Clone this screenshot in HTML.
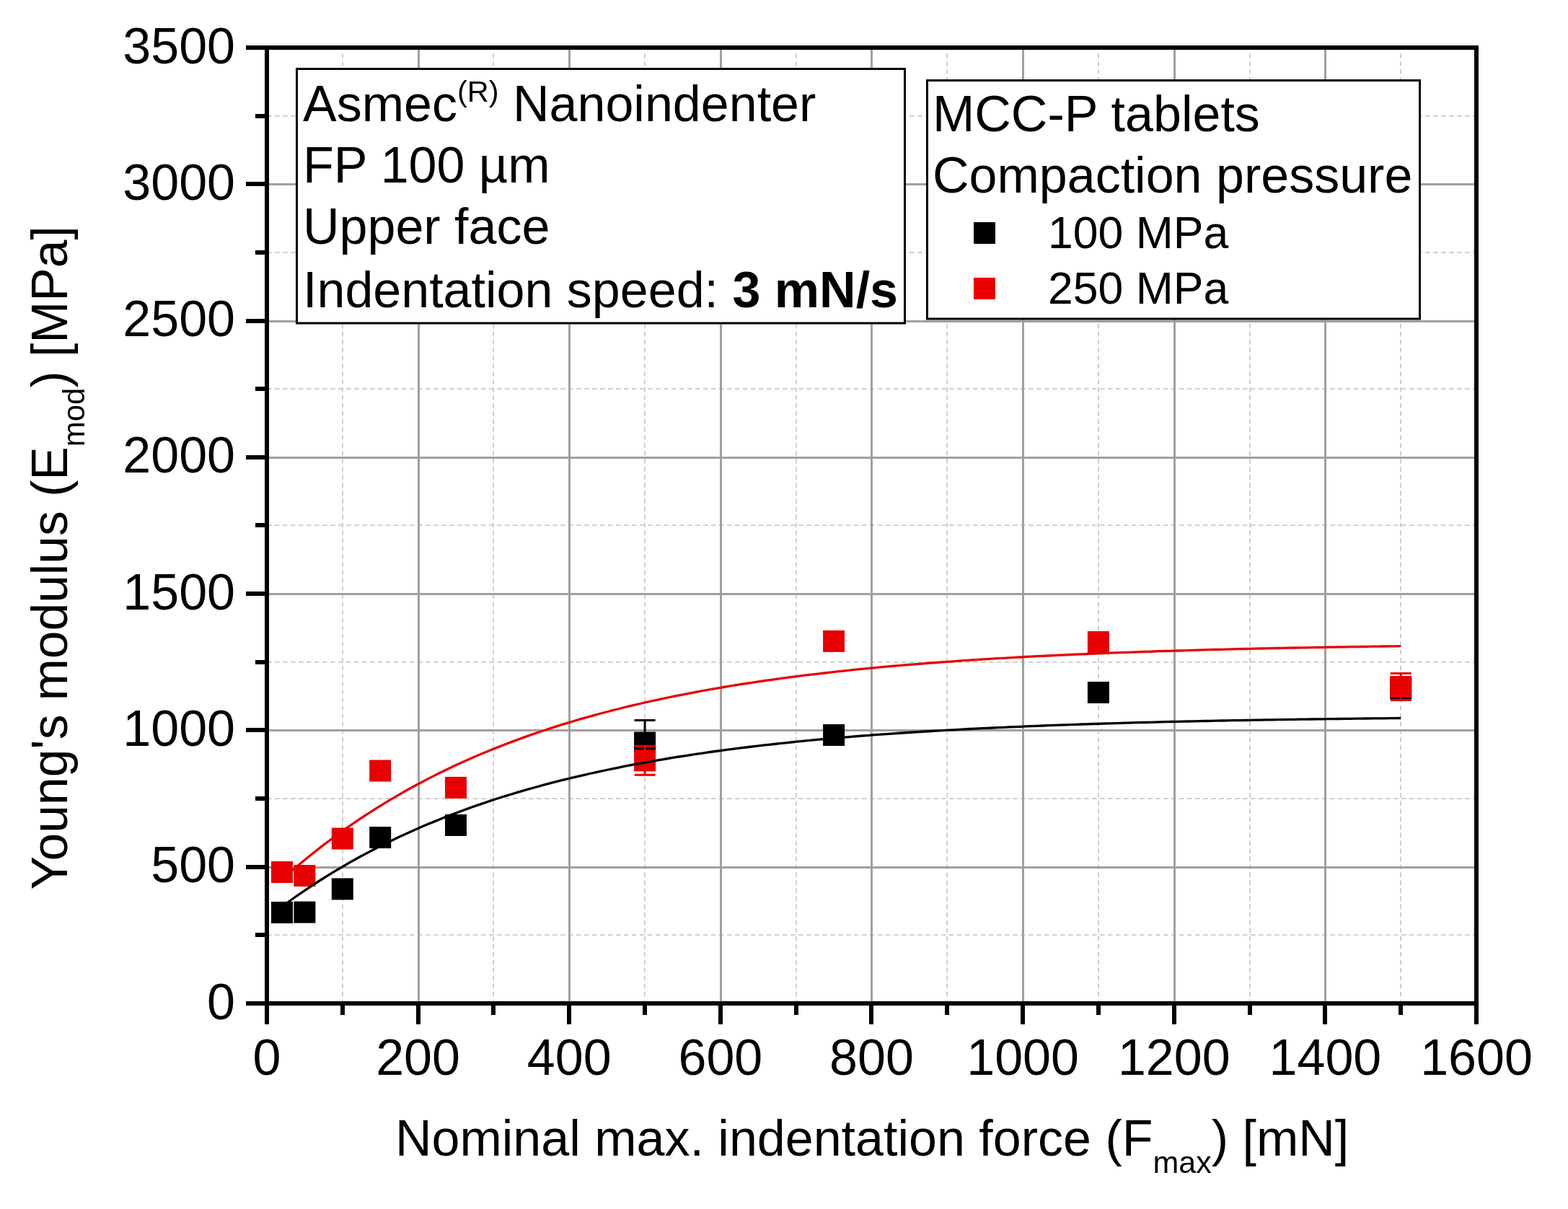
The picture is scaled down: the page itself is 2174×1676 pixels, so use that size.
<!DOCTYPE html><html><head><meta charset="utf-8"><title>Young's modulus vs indentation force</title>
<style>html,body{margin:0;padding:0;background:#fff;}svg{display:block;}text{font-family:'Liberation Sans', Arial, sans-serif;fill:#000;}</style></head><body>
<svg width="2174" height="1676" viewBox="0 0 2174 1676">
<rect x="0" y="0" width="2174" height="1676" fill="#fff"/>
<path d="M475.0 1391.0V66.0M684.0 1391.0V66.0M894.0 1391.0V66.0M1104.0 1391.0V66.0M1313.0 1391.0V66.0M1523.0 1391.0V66.0M1733.0 1391.0V66.0M1942.0 1391.0V66.0" stroke="#cfcfcf" stroke-width="2" stroke-dasharray="6.6 4.425" stroke-dashoffset="1.5" fill="none"/>
<path d="M370.0 1296.0H2047.0M370.0 1107.0H2047.0M370.0 918.0H2047.0M370.0 728.0H2047.0M370.0 539.0H2047.0M370.0 350.0H2047.0M370.0 161.0H2047.0" stroke="#cfcfcf" stroke-width="2" stroke-dasharray="6.6 4.4" fill="none"/>
<path d="M580.5 66.0V1391.0M789.5 66.0V1391.0M999.5 66.0V1391.0M1208.5 66.0V1391.0M1418.5 66.0V1391.0M1628.5 66.0V1391.0M1837.5 66.0V1391.0M370.0 1202.5H2047.0M370.0 1012.5H2047.0M370.0 823.5H2047.0M370.0 634.5H2047.0M370.0 445.5H2047.0M370.0 255.5H2047.0" stroke="#a0a0a0" stroke-width="3" fill="none"/>
<rect x="411.5" y="95.5" width="843" height="352.5" fill="#fff" stroke="#000" stroke-width="3"/>
<rect x="1285.5" y="111.5" width="683" height="330.5" fill="#fff" stroke="#000" stroke-width="3"/>
<path d="M341 1391.0H370.0M341 1202.0H370.0M341 1012.0H370.0M341 823.0H370.0M341 634.0H370.0M341 445.0H370.0M341 255.0H370.0M341 66.0H370.0M354 1296.0H370.0M354 1107.0H370.0M354 918.0H370.0M354 728.0H370.0M354 539.0H370.0M354 350.0H370.0M354 161.0H370.0M370.0 1391.0V1420M580.0 1391.0V1420M789.0 1391.0V1420M999.0 1391.0V1420M1208.0 1391.0V1420M1418.0 1391.0V1420M1628.0 1391.0V1420M1837.0 1391.0V1420M2047.0 1391.0V1420M475.0 1391.0V1407M684.0 1391.0V1407M894.0 1391.0V1407M1104.0 1391.0V1407M1313.0 1391.0V1407M1523.0 1391.0V1407M1733.0 1391.0V1407M1942.0 1391.0V1407" stroke="#000" stroke-width="6" fill="none"/>
<rect x="370.0" y="66.0" width="1677.0" height="1325.0" fill="none" stroke="#000" stroke-width="6"/>
<text x="326" y="1412.5" font-size="70" text-anchor="end">0</text>
<text x="326" y="1223.2" font-size="70" text-anchor="end">500</text>
<text x="326" y="1033.9" font-size="70" text-anchor="end">1000</text>
<text x="326" y="844.6" font-size="70" text-anchor="end">1500</text>
<text x="326" y="655.4" font-size="70" text-anchor="end">2000</text>
<text x="326" y="466.1" font-size="70" text-anchor="end">2500</text>
<text x="326" y="276.8" font-size="70" text-anchor="end">3000</text>
<text x="326" y="87.5" font-size="70" text-anchor="end">3500</text>
<text x="370.0" y="1490" font-size="70" text-anchor="middle">0</text>
<text x="579.6" y="1490" font-size="70" text-anchor="middle">200</text>
<text x="789.2" y="1490" font-size="70" text-anchor="middle">400</text>
<text x="998.9" y="1490" font-size="70" text-anchor="middle">600</text>
<text x="1208.5" y="1490" font-size="70" text-anchor="middle">800</text>
<text x="1418.1" y="1490" font-size="70" text-anchor="middle">1000</text>
<text x="1627.8" y="1490" font-size="70" text-anchor="middle">1200</text>
<text x="1837.4" y="1490" font-size="70" text-anchor="middle">1400</text>
<text x="2047.0" y="1490" font-size="70" text-anchor="middle">1600</text>
<text x="548" y="1602" font-size="70">Nominal max. indentation force (F<tspan font-size="43" dy="24">max</tspan><tspan dy="-24">) [mN]</tspan></text>
<text transform="translate(93,1233.5) rotate(-90)" x="0" y="0" font-size="69.6">Young's modulus (E<tspan font-size="42" dy="24">mod</tspan><tspan dy="-24">) [MPa]</tspan></text>
<text x="420" y="167.8" font-size="70">Asmec<tspan font-size="41.5" dy="-27">(R)</tspan><tspan dy="27"> Nanoindenter</tspan></text>
<text x="420" y="253.4" font-size="70">FP 100 µm</text>
<text x="420" y="338.1" font-size="70">Upper face</text>
<text x="420" y="426.4" font-size="70">Indentation speed: <tspan font-weight="bold">3 mN/s</tspan></text>
<text x="1293" y="181.8" font-size="70">MCC-P tablets</text>
<text x="1293" y="266.6" font-size="70">Compaction pressure</text>
<rect x="1350" y="308" width="30" height="30" fill="#000"/>
<rect x="1350" y="385" width="30" height="30" fill="#e80000"/>
<text x="1453" y="343.7" font-size="62.5">100 MPa</text>
<text x="1453" y="420.8" font-size="62.5">250 MPa</text>
<rect x="376.0" y="1250.0" width="30" height="30" fill="#000"/><rect x="407.4" y="1249.6" width="30" height="30" fill="#000"/><rect x="459.8" y="1217.4" width="30" height="30" fill="#000"/><rect x="512.2" y="1146.0" width="30" height="30" fill="#000"/><rect x="617.0" y="1128.9" width="30" height="30" fill="#000"/><path d="M894.1 998.4V1060.5M879.6 998.4H908.6M879.6 1060.5H908.6" stroke="#000" stroke-width="3" fill="none"/><rect x="879.1" y="1014.5" width="30" height="30" fill="#000"/><rect x="1141.1" y="1004.0" width="30" height="30" fill="#000"/><rect x="1507.9" y="945.0" width="30" height="30" fill="#000"/><path d="M1942.2 950.7V958.3M1927.7 950.7H1956.7M1927.7 958.3H1956.7" stroke="#000" stroke-width="3" fill="none"/><rect x="1927.2" y="939.5" width="30" height="30" fill="#000"/>
<rect x="376.0" y="1194.0" width="30" height="30" fill="#e80000"/><rect x="407.4" y="1199.0" width="30" height="30" fill="#e80000"/><rect x="459.8" y="1147.5" width="30" height="30" fill="#e80000"/><rect x="512.2" y="1053.5" width="30" height="30" fill="#e80000"/><rect x="617.0" y="1076.9" width="30" height="30" fill="#e80000"/><path d="M894.1 1034.2V1074.3M879.6 1034.2H908.6M879.6 1074.3H908.6" stroke="#e80000" stroke-width="3" fill="none"/><rect x="879.1" y="1039.3" width="30" height="30" fill="#e80000"/><rect x="1141.1" y="873.9" width="30" height="30" fill="#e80000"/><rect x="1507.9" y="875.0" width="30" height="30" fill="#e80000"/><path d="M1942.2 933.5V970.6M1927.7 933.5H1956.7M1927.7 970.6H1956.7" stroke="#e80000" stroke-width="3" fill="none"/><rect x="1927.2" y="937.0" width="30" height="30" fill="#e80000"/>
<polyline points="391.0,1256.7 398.7,1251.1 406.5,1245.5 414.2,1240.1 422.0,1234.8 429.7,1229.6 437.5,1224.5 445.3,1219.5 453.0,1214.7 460.8,1209.9 468.5,1205.2 476.3,1200.7 484.0,1196.2 491.8,1191.8 499.5,1187.5 507.3,1183.4 515.1,1179.3 522.8,1175.2 530.6,1171.3 538.3,1167.5 546.1,1163.7 553.8,1160.1 561.6,1156.5 569.4,1152.9 577.1,1149.5 584.9,1146.1 592.6,1142.8 600.4,1139.6 608.1,1136.4 615.9,1133.3 623.6,1130.3 631.4,1127.4 639.2,1124.5 646.9,1121.6 654.7,1118.8 662.4,1116.1 670.2,1113.5 677.9,1110.9 685.7,1108.3 693.5,1105.8 701.2,1103.4 709.0,1101.0 716.7,1098.7 724.5,1096.4 732.2,1094.2 740.0,1092.0 747.7,1089.8 755.5,1087.7 763.3,1085.7 771.0,1083.7 778.8,1081.7 786.5,1079.8 794.3,1077.9 802.0,1076.1 809.8,1074.3 817.5,1072.5 825.3,1070.8 833.1,1069.1 840.8,1067.5 848.6,1065.9 856.3,1064.3 864.1,1062.7 871.8,1061.2 879.6,1059.7 887.4,1058.3 895.1,1056.9 902.9,1055.5 910.6,1054.1 918.4,1052.8 926.1,1051.5 933.9,1050.2 941.6,1049.0 949.4,1047.8 957.2,1046.6 964.9,1045.4 972.7,1044.3 980.4,1043.1 988.2,1042.0 995.9,1041.0 1003.7,1039.9 1011.5,1038.9 1019.2,1037.9 1027.0,1036.9 1034.7,1036.0 1042.5,1035.0 1050.2,1034.1 1058.0,1033.2 1065.7,1032.3 1073.5,1031.5 1081.3,1030.6 1089.0,1029.8 1096.8,1029.0 1104.5,1028.2 1112.3,1027.4 1120.0,1026.7 1127.8,1025.9 1135.6,1025.2 1143.3,1024.5 1151.1,1023.8 1158.8,1023.1 1166.6,1022.4 1174.3,1021.8 1182.1,1021.2 1189.8,1020.5 1197.6,1019.9 1205.4,1019.3 1213.1,1018.7 1220.9,1018.2 1228.6,1017.6 1236.4,1017.1 1244.1,1016.5 1251.9,1016.0 1259.6,1015.5 1267.4,1015.0 1275.2,1014.5 1282.9,1014.0 1290.7,1013.5 1298.4,1013.1 1306.2,1012.6 1313.9,1012.2 1321.7,1011.8 1329.5,1011.3 1337.2,1010.9 1345.0,1010.5 1352.7,1010.1 1360.5,1009.7 1368.2,1009.4 1376.0,1009.0 1383.7,1008.6 1391.5,1008.3 1399.3,1007.9 1407.0,1007.6 1414.8,1007.3 1422.5,1006.9 1430.3,1006.6 1438.0,1006.3 1445.8,1006.0 1453.6,1005.7 1461.3,1005.4 1469.1,1005.1 1476.8,1004.8 1484.6,1004.6 1492.3,1004.3 1500.1,1004.0 1507.8,1003.8 1515.6,1003.5 1523.4,1003.3 1531.1,1003.0 1538.9,1002.8 1546.6,1002.6 1554.4,1002.4 1562.1,1002.1 1569.9,1001.9 1577.6,1001.7 1585.4,1001.5 1593.2,1001.3 1600.9,1001.1 1608.7,1000.9 1616.4,1000.7 1624.2,1000.5 1631.9,1000.3 1639.7,1000.2 1647.5,1000.0 1655.2,999.8 1663.0,999.7 1670.7,999.5 1678.5,999.3 1686.2,999.2 1694.0,999.0 1701.7,998.9 1709.5,998.7 1717.3,998.6 1725.0,998.5 1732.8,998.3 1740.5,998.2 1748.3,998.1 1756.0,997.9 1763.8,997.8 1771.6,997.7 1779.3,997.6 1787.1,997.4 1794.8,997.3 1802.6,997.2 1810.3,997.1 1818.1,997.0 1825.8,996.9 1833.6,996.8 1841.4,996.7 1849.1,996.6 1856.9,996.5 1864.6,996.4 1872.4,996.3 1880.1,996.2 1887.9,996.1 1895.7,996.0 1903.4,995.9 1911.2,995.9 1918.9,995.8 1926.7,995.7 1934.4,995.6 1942.2,995.5" fill="none" stroke="#000" stroke-width="3.3" stroke-linejoin="round"/>
<polyline points="391.0,1219.2 398.7,1212.3 406.5,1205.5 414.2,1198.9 422.0,1192.5 429.7,1186.2 437.5,1180.0 445.3,1173.9 453.0,1168.0 460.8,1162.2 468.5,1156.5 476.3,1150.9 484.0,1145.5 491.8,1140.1 499.5,1134.9 507.3,1129.8 515.1,1124.8 522.8,1119.9 530.6,1115.1 538.3,1110.4 546.1,1105.8 553.8,1101.3 561.6,1096.8 569.4,1092.5 577.1,1088.3 584.9,1084.2 592.6,1080.1 600.4,1076.1 608.1,1072.3 615.9,1068.5 623.6,1064.7 631.4,1061.1 639.2,1057.5 646.9,1054.0 654.7,1050.6 662.4,1047.3 670.2,1044.0 677.9,1040.8 685.7,1037.6 693.5,1034.6 701.2,1031.5 709.0,1028.6 716.7,1025.7 724.5,1022.9 732.2,1020.1 740.0,1017.4 747.7,1014.8 755.5,1012.2 763.3,1009.6 771.0,1007.1 778.8,1004.7 786.5,1002.3 794.3,1000.0 802.0,997.7 809.8,995.4 817.5,993.3 825.3,991.1 833.1,989.0 840.8,987.0 848.6,984.9 856.3,983.0 864.1,981.0 871.8,979.2 879.6,977.3 887.4,975.5 895.1,973.7 902.9,972.0 910.6,970.3 918.4,968.6 926.1,967.0 933.9,965.4 941.6,963.8 949.4,962.3 957.2,960.8 964.9,959.3 972.7,957.9 980.4,956.5 988.2,955.1 995.9,953.8 1003.7,952.5 1011.5,951.2 1019.2,949.9 1027.0,948.7 1034.7,947.5 1042.5,946.3 1050.2,945.1 1058.0,944.0 1065.7,942.9 1073.5,941.8 1081.3,940.7 1089.0,939.7 1096.8,938.7 1104.5,937.7 1112.3,936.7 1120.0,935.7 1127.8,934.8 1135.6,933.9 1143.3,933.0 1151.1,932.1 1158.8,931.2 1166.6,930.4 1174.3,929.6 1182.1,928.7 1189.8,927.9 1197.6,927.2 1205.4,926.4 1213.1,925.7 1220.9,924.9 1228.6,924.2 1236.4,923.5 1244.1,922.8 1251.9,922.2 1259.6,921.5 1267.4,920.9 1275.2,920.3 1282.9,919.6 1290.7,919.0 1298.4,918.5 1306.2,917.9 1313.9,917.3 1321.7,916.8 1329.5,916.2 1337.2,915.7 1345.0,915.2 1352.7,914.7 1360.5,914.2 1368.2,913.7 1376.0,913.2 1383.7,912.7 1391.5,912.3 1399.3,911.8 1407.0,911.4 1414.8,911.0 1422.5,910.5 1430.3,910.1 1438.0,909.7 1445.8,909.3 1453.6,909.0 1461.3,908.6 1469.1,908.2 1476.8,907.8 1484.6,907.5 1492.3,907.1 1500.1,906.8 1507.8,906.5 1515.6,906.2 1523.4,905.8 1531.1,905.5 1538.9,905.2 1546.6,904.9 1554.4,904.6 1562.1,904.3 1569.9,904.1 1577.6,903.8 1585.4,903.5 1593.2,903.3 1600.9,903.0 1608.7,902.7 1616.4,902.5 1624.2,902.3 1631.9,902.0 1639.7,901.8 1647.5,901.6 1655.2,901.3 1663.0,901.1 1670.7,900.9 1678.5,900.7 1686.2,900.5 1694.0,900.3 1701.7,900.1 1709.5,899.9 1717.3,899.7 1725.0,899.5 1732.8,899.4 1740.5,899.2 1748.3,899.0 1756.0,898.8 1763.8,898.7 1771.6,898.5 1779.3,898.4 1787.1,898.2 1794.8,898.0 1802.6,897.9 1810.3,897.8 1818.1,897.6 1825.8,897.5 1833.6,897.3 1841.4,897.2 1849.1,897.1 1856.9,896.9 1864.6,896.8 1872.4,896.7 1880.1,896.6 1887.9,896.5 1895.7,896.3 1903.4,896.2 1911.2,896.1 1918.9,896.0 1926.7,895.9 1934.4,895.8 1942.2,895.7" fill="none" stroke="#e80000" stroke-width="3.3" stroke-linejoin="round"/>
</svg></body></html>
